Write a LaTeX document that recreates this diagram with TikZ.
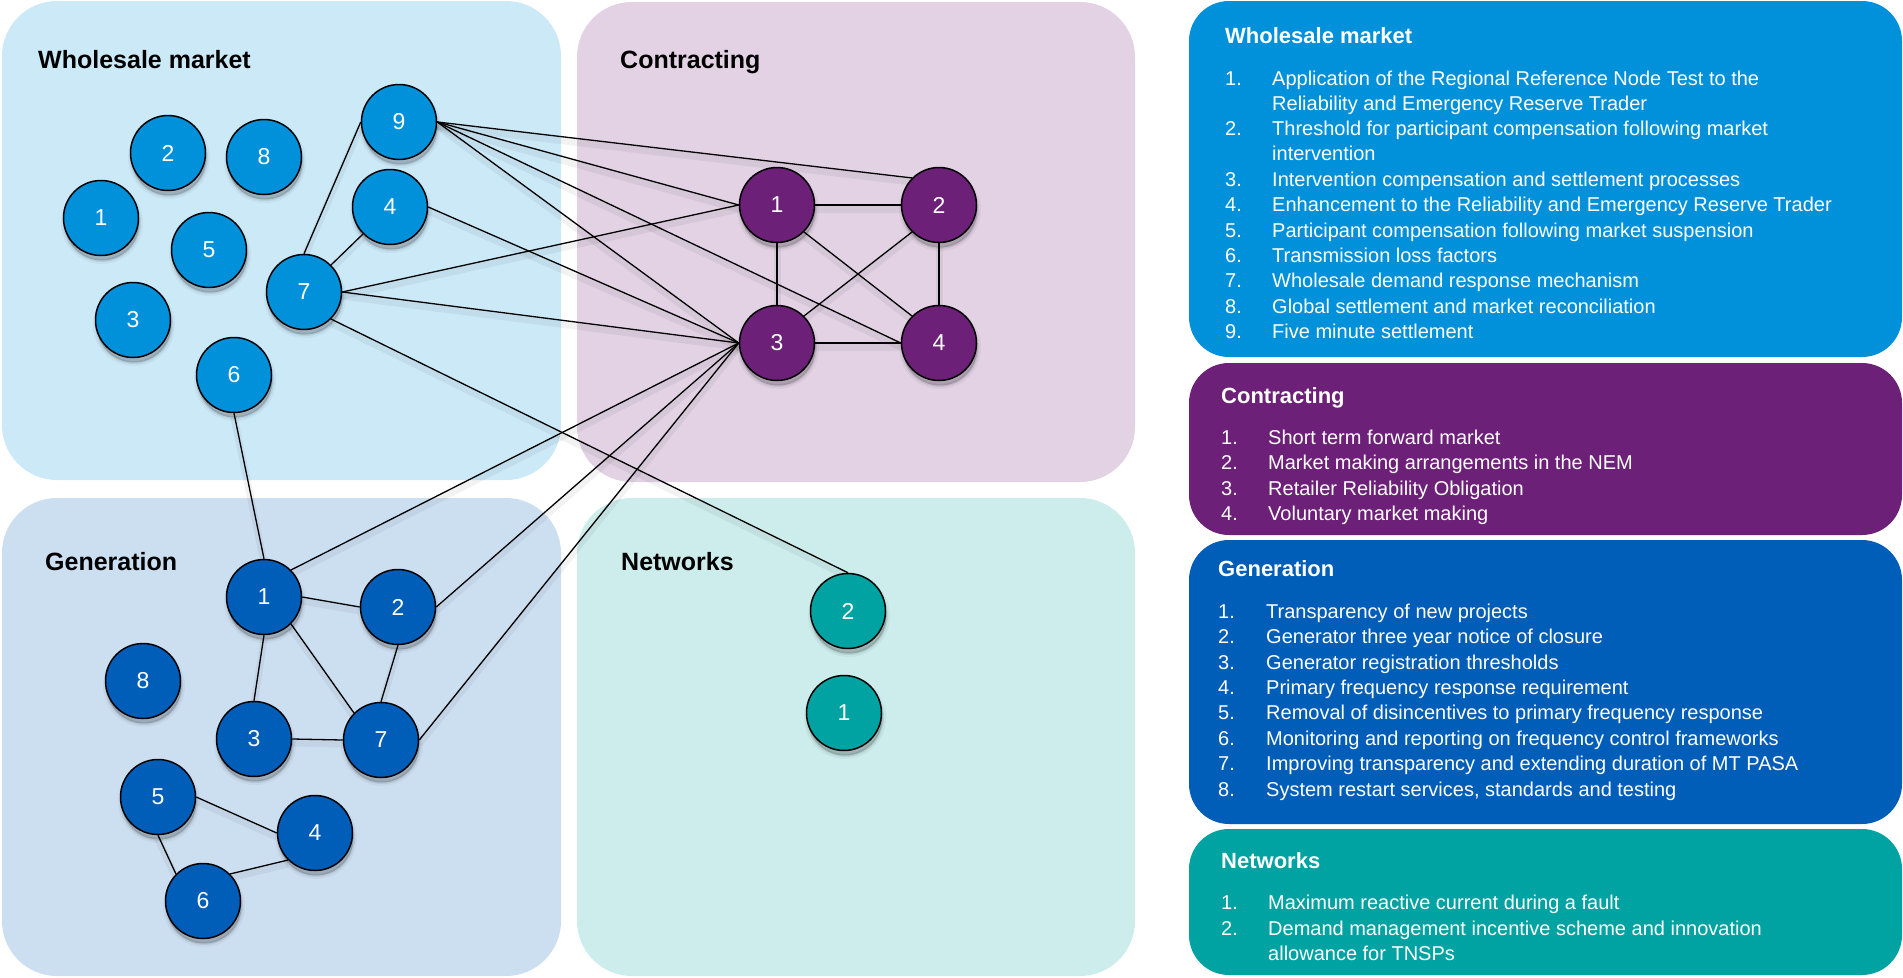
\documentclass[tikz,border=0pt]{standalone}
\usepackage{fontspec}
\setmainfont{Liberation Sans}
\definecolor{wmc}{HTML}{0091DA}
\definecolor{ctc}{HTML}{6D2077}
\definecolor{gnc}{HTML}{005EB8}
\definecolor{nwc}{HTML}{00A3A1}
\pgfdeclarelayer{back}
\pgfdeclarelayer{links}
\pgfsetlayers{back,links,main}

\begin{document}
\begin{tikzpicture}[x=1pt,y=-1pt,
  softshadow/.style={
    preaction={draw=black, fill=black, line width=7pt, opacity=0.04, transform canvas={xshift=1pt, yshift=-5pt}},
    preaction={draw=black, fill=black, line width=3pt, opacity=0.07, transform canvas={xshift=1pt, yshift=-5pt}},
    preaction={fill=black, opacity=0.10, transform canvas={xshift=1pt, yshift=-5pt}}},
  issue/.style={circle, draw=black, line width=1.5pt, minimum size=75pt, inner sep=0pt,
    text=white, font=\fontsize{23}{23}\selectfont, softshadow},
  wmnode/.style={issue, fill=wmc},
  ctnode/.style={issue, fill=ctc},
  gnnode/.style={issue, fill=gnc},
  nwnode/.style={issue, fill=nwc},
  link/.style={line width=1.3pt, draw=black,
    preaction={draw=black, draw opacity=0.05, line width=7pt, transform canvas={yshift=-4pt}}},
  quad/.style={rounded corners=55pt},
  panel/.style={rounded corners=40pt},
  qtitle/.style={anchor=base west, font=\bfseries\fontsize{25}{25}\selectfont, inner sep=0pt},
  ptitle/.style={anchor=base west, font=\bfseries\fontsize{22}{22}\selectfont, text=white, inner sep=0pt},
  pitem/.style={anchor=base west, font=\fontsize{20}{20}\selectfont, text=white, inner sep=0pt},
]
\useasboundingbox (0,0) rectangle (1903,977);

% ---------- quadrant backgrounds and side panels ----------
\begin{pgfonlayer}{back}
  \fill[wmc!20, quad] (2,1) rectangle (561,480);
  \fill[ctc!20, quad] (577,2) rectangle (1135,482);
  \fill[gnc!20, quad] (2,498) rectangle (561,976);
  \fill[nwc!20, quad] (577,498) rectangle (1135,976);
  \fill[wmc, panel] (1189,1) rectangle (1902,357);
  \fill[ctc, panel] (1189,363) rectangle (1902,535);
  \fill[gnc, panel] (1189,540) rectangle (1902,824);
  \fill[nwc, panel] (1189,829) rectangle (1902,975);
\end{pgfonlayer}

% ---------- quadrant titles ----------
\node[qtitle] (qwm) at (38,68) {Wholesale market};
\node[qtitle] (qct) at (620,68) {Contracting};
\node[qtitle] (qgn) at (45,570) {Generation};
\node[qtitle] (qnw) at (621,570) {Networks};

% ---------- wholesale market issues ----------
\node[wmnode] (w1) at (101,218) {1};
\node[wmnode] (w2) at (168,153) {2};
\node[wmnode] (w3) at (133,320) {3};
\node[wmnode] (w4) at (390,207) {4};
\node[wmnode] (w5) at (209,250) {5};
\node[wmnode] (w6) at (234,375) {6};
\node[wmnode] (w7) at (304,292) {7};
\node[wmnode] (w8) at (264,157) {8};
\node[wmnode] (w9) at (399,122) {9};

% ---------- contracting issues ----------
\node[ctnode] (c1) at (777,205) {1};
\node[ctnode] (c2) at (939,205) {2};
\node[ctnode] (c3) at (777,343) {3};
\node[ctnode] (c4) at (939,343) {4};

% ---------- generation issues ----------
\node[gnnode] (g1) at (264,597) {1};
\node[gnnode] (g2) at (398,607) {2};
\node[gnnode] (g3) at (254,739) {3};
\node[gnnode] (g4) at (315,833) {4};
\node[gnnode] (g5) at (158,797) {5};
\node[gnnode] (g6) at (203,901) {6};
\node[gnnode] (g7) at (381,740) {7};
\node[gnnode] (g8) at (143,681) {8};

% ---------- networks issues ----------
\node[nwnode] (n1) at (844,713) {1};
\node[nwnode] (n2) at (848,611) {2};

% ---------- interdependencies ----------
\begin{pgfonlayer}{links}
  \draw[link] (w9.west) -- (w7.north);
  \draw[link] (w4.south west) -- (w7.north east);
  \draw[link] (w9.east) -- (c2.north west);
  \draw[link] (w9.east) -- (c1.west);
  \draw[link] (w9.east) -- (c4.west);
  \draw[link] (w9.east) -- (c3.west);
  \draw[link] (w4.east) -- (c3.west);
  \draw[link] (w7.east) -- (c1.west);
  \draw[link] (w7.east) -- (c3.west);
  \draw[link] (w7.south east) -- (n2.north);
  \draw[link] (w6.south) -- (g1.north);
  \draw[link] (g1.north east) -- (c3.west);
  \draw[link] (g2.east) -- (c3.west);
  \draw[link] (g7.east) -- (c3.west);
  \draw[link] (g1.east) -- (g2.west);
  \draw[link] (g1.south) -- (g3.north);
  \draw[link] (g1.south east) -- (g7.north west);
  \draw[link] (g2.south) -- (g7.north);
  \draw[link] (g3.east) -- (g7.west);
  \draw[link] (g5.east) -- (g4.west);
  \draw[link] (g5.south) -- (g6.north west);
  \draw[link] (g6.north east) -- (g4.south west);
  \draw[link] (c1.east) -- (c2.west);
  \draw[link] (c1.south) -- (c3.north);
  \draw[link] (c1.south east) -- (c4.north west);
  \draw[link] (c2.south west) -- (c3.north east);
  \draw[link] (c2.south) -- (c4.north);
  \draw[link] (c3.east) -- (c4.west);
\end{pgfonlayer}

% ---------- side panel: wholesale market ----------
\node[ptitle] (pwm) at (1225,43) {Wholesale market};
\foreach \yy/\num [count=\k] in {85/1., 135/2., 186/3., 211/4., 237/5., 262/6., 287/7., 313/8., 338/9.}
  \node[pitem] (wmn\k) at (1225,\yy) {\num};
\foreach \yy/\itm [count=\k] in {
   85/{Application of the Regional Reference Node Test to the},
  110/{Reliability and Emergency Reserve Trader},
  135/{Threshold for participant compensation following market},
  160/{intervention},
  186/{Intervention compensation and settlement processes},
  211/{Enhancement to the Reliability and Emergency Reserve Trader},
  237/{Participant compensation following market suspension},
  262/{Transmission loss factors},
  287/{Wholesale demand response mechanism},
  313/{Global settlement and market reconciliation},
  338/{Five minute settlement}}
  \node[pitem] (wmt\k) at (1272,\yy) {\itm};

% ---------- side panel: contracting ----------
\node[ptitle] (pct) at (1221,403) {Contracting};
\foreach \yy/\num [count=\k] in {444/1., 469/2., 495/3., 520/4.}
  \node[pitem] (ctn\k) at (1221,\yy) {\num};
\foreach \yy/\itm [count=\k] in {
  444/{Short term forward market},
  469/{Market making arrangements in the NEM},
  495/{Retailer Reliability Obligation},
  520/{Voluntary market making}}
  \node[pitem] (ctt\k) at (1268,\yy) {\itm};

% ---------- side panel: generation ----------
\node[ptitle] (pgn) at (1218,576) {Generation};
\foreach \yy/\num [count=\k] in {618/1., 643/2., 669/3., 694/4., 719/5., 745/6., 770/7., 796/8.}
  \node[pitem] (gnn\k) at (1218,\yy) {\num};
\foreach \yy/\itm [count=\k] in {
  618/{Transparency of new projects},
  643/{Generator three year notice of closure},
  669/{Generator registration thresholds},
  694/{Primary frequency response requirement},
  719/{Removal of disincentives to primary frequency response},
  745/{Monitoring and reporting on frequency control frameworks},
  770/{Improving transparency and extending duration of MT PASA},
  796/{System restart services, standards and testing}}
  \node[pitem] (gnt\k) at (1266,\yy) {\itm};

% ---------- side panel: networks ----------
\node[ptitle] (pnw) at (1221,868) {Networks};
\foreach \yy/\num [count=\k] in {909/1., 935/2.}
  \node[pitem] (nwn\k) at (1221,\yy) {\num};
\foreach \yy/\itm [count=\k] in {
  909/{Maximum reactive current during a fault},
  935/{Demand management incentive scheme and innovation},
  960/{allowance for TNSPs}}
  \node[pitem] (nwt\k) at (1268,\yy) {\itm};

\end{tikzpicture}
\end{document}
